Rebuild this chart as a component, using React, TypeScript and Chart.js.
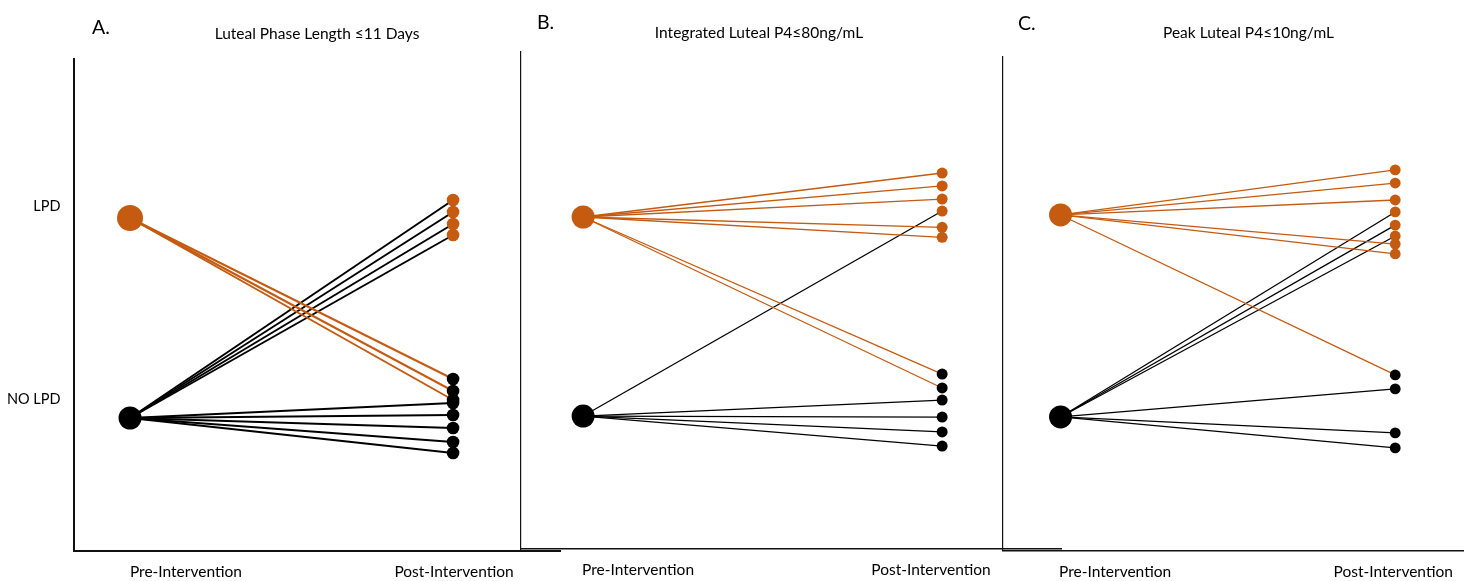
import { useEffect, useRef } from 'react';
import { Chart, registerables } from 'chart.js';

Chart.register(...registerables);

// Category names on the vertical axis (0 = NO LPD, 1 = LPD)
const STATUS_LABELS = ['NO LPD', 'LPD'];
const TIME_LABELS = ['Pre-Intervention', 'Post-Intervention'];
const PANEL_LETTERS = ['A.', 'B.', 'C.'];
const PANEL_TITLES = [
  'Luteal Phase Length ≤11 Days',
  'Integrated Luteal P4≤80ng/mL',
  'Peak Luteal P4≤10ng/mL',
];

// Status before the intervention, one entry per participant (1 = LPD, 0 = NO LPD)
const preLength = [1, 1, 1, 0, 0, 0, 0, 0, 0, 0, 0, 0];
// Position after the intervention (around 1 = LPD, around 0 = NO LPD; offsets keep dots apart)
const postLength = [0.195, 0.135, 0.09, 1.09, 1.03, 0.97, 0.915, 0.075, 0.015, -0.05, -0.12, -0.175];

const preIntegrated = [1, 1, 1, 1, 1, 1, 1, 0, 0, 0, 0, 0];
const postIntegrated = [1.221, 1.156, 1.09, 0.948, 0.898, 0.211, 0.141, 1.03, 0.08, -0.005, -0.08, -0.151];

const prePeak = [1, 1, 1, 1, 1, 1, 0, 0, 0, 0, 0, 0];
const postPeak = [1.223, 1.158, 1.074, 0.856, 0.807, 0.208, 1.015, 0.95, 0.896, 0.139, -0.079, -0.153];

const PRE = [preLength, preIntegrated, prePeak];
const POST = [postLength, postIntegrated, postPeak];

const ORANGE = '#C55A11';
const BLACK = '#000000';
const AXIS_COLOR = '#111111';
const FONT = 'Lato, "Open Sans", sans-serif';
const LABEL_SIZE = 15.5;
const STATUS_SIZE = 14.5;
const TITLE_SIZE = 15.5;
const LETTER_SIZE = 19.5;

const CANVAS_W = 1475;
const CANVAS_H = 581;
const X_AXIS_HEIGHT = 28;

// Layout of each panel: plot frame, scale ranges, tick positions and mark styles
const FRAMES = [
  {
    area: { left: 73.5, top: 59, right: 560, bottom: 551 },
    x: [-0.175, 1.331],
    y: [-0.665, 1.795],
    timeTicks: [0.173, 1.003],
    statusTicks: [0.0925, 1.06],
    showStatus: true,
    yAxisWidth: 73.5,
    xBorder: 2,
    yBorder: 2,
    lineWidth: 2,
    preRadius: [11.5, 13],
    postRadius: 6.3,
    heading: { letterX: 92, letterY: 34.3, titleX: 317, titleY: 38.5 },
  },
  {
    area: { left: 521, top: 52, right: 1061, bottom: 549 },
    x: [-0.173, 1.331],
    y: [-0.668, 1.829],
    timeTicks: [0.153, 0.969],
    statusTicks: [0, 1],
    showStatus: false,
    yAxisWidth: 0,
    xBorder: 1.5,
    yBorder: 1.2,
    lineWidth: 1.3,
    preRadius: [11.5, 11.5],
    postRadius: 5.5,
    heading: { letterX: 537, letterY: 29.3, titleX: 759, titleY: 37.5 },
  },
  {
    area: { left: 1003, top: 57, right: 1475, bottom: 550.5 },
    x: [-0.172, 1.204],
    y: [-0.661, 1.782],
    timeTicks: [0.163, 0.994],
    statusTicks: [0, 1],
    showStatus: false,
    yAxisWidth: 0,
    xBorder: 1.5,
    yBorder: 1.2,
    lineWidth: 1.3,
    preRadius: [11.5, 11.5],
    postRadius: 5.4,
    heading: { letterX: 1018, letterY: 30, titleX: 1248.5, titleY: 37.5 },
  },
];

const statusColor = (v: number) => (v >= 0.5 ? ORANGE : BLACK);

// Panel letter and heading above the plot frame
const headingPlugin = {
  id: 'panelHeading',
  afterDraw(chart: any, _args: any, opts: any) {
    const { ctx } = chart;
    ctx.save();
    ctx.fillStyle = '#000';
    ctx.textBaseline = 'alphabetic';
    ctx.textAlign = 'left';
    ctx.font = `${LETTER_SIZE}px ${FONT}`;
    ctx.fillText(opts.letter, opts.letterX, opts.letterY);
    ctx.textAlign = 'center';
    ctx.font = `${TITLE_SIZE}px ${FONT}`;
    ctx.fillText(opts.title, opts.titleX, opts.titleY);
    ctx.restore();
  },
};

function buildConfig(i: number): any {
  const f = FRAMES[i];
  const pre = PRE[i];
  const post = POST[i];

  const lines = pre.map((p, k) => ({
    data: [
      { x: 0, y: p },
      { x: 1, y: post[k] },
    ],
    showLine: true,
    borderColor: statusColor(p),
    borderWidth: f.lineWidth,
    pointRadius: 0,
    pointHoverRadius: 0,
    order: 2,
  }));

  const preStates = Array.from(new Set(pre));
  const preDots = {
    data: preStates.map((s) => ({ x: 0, y: s })),
    showLine: false,
    pointRadius: preStates.map((s) => f.preRadius[s]),
    pointBackgroundColor: preStates.map(statusColor),
    pointBorderWidth: 0,
    order: 0,
  };

  const postDots = {
    data: post.map((v) => ({ x: 1, y: v })),
    showLine: false,
    pointRadius: f.postRadius,
    pointBackgroundColor: post.map(statusColor),
    pointBorderWidth: 0,
    order: 1,
  };

  return {
    type: 'scatter',
    data: { datasets: [...lines, postDots, preDots] },
    plugins: [headingPlugin],
    options: {
      animation: false,
      responsive: false,
      events: [],
      layout: {
        padding: {
          left: f.area.left - f.yAxisWidth,
          top: f.area.top,
          right: CANVAS_W - f.area.right,
          bottom: CANVAS_H - f.area.bottom - X_AXIS_HEIGHT,
        },
      },
      plugins: {
        legend: { display: false },
        tooltip: { enabled: false },
        panelHeading: {
          letter: PANEL_LETTERS[i],
          title: PANEL_TITLES[i],
          ...f.heading,
        },
      },
      scales: {
        x: {
          type: 'linear',
          min: f.x[0],
          max: f.x[1],
          grid: { display: false, drawTicks: false },
          border: { display: true, color: AXIS_COLOR, width: f.xBorder },
          afterBuildTicks: (s: any) => {
            s.ticks = f.timeTicks.map((v) => ({ value: v }));
          },
          afterFit: (s: any) => {
            s.height = X_AXIS_HEIGHT;
          },
          ticks: {
            callback: (_v: any, idx: number) => TIME_LABELS[idx],
            color: '#000',
            font: { family: FONT, size: LABEL_SIZE },
            padding: 12,
            maxRotation: 0,
            minRotation: 0,
            autoSkip: false,
          },
        },
        y: {
          type: 'linear',
          min: f.y[0],
          max: f.y[1],
          grid: { display: false, drawTicks: false },
          border: { display: true, color: AXIS_COLOR, width: f.yBorder },
          afterBuildTicks: (s: any) => {
            s.ticks = f.statusTicks.map((v) => ({ value: v }));
          },
          afterFit: (s: any) => {
            s.width = f.yAxisWidth;
          },
          ticks: {
            display: f.showStatus,
            callback: (_v: any, idx: number) => STATUS_LABELS[idx],
            color: '#000',
            font: { family: FONT, size: STATUS_SIZE },
            padding: 13,
            autoSkip: false,
          },
        },
      },
    },
  };
}

function Panel({ index }: { index: number }) {
  const ref = useRef<HTMLCanvasElement>(null);
  useEffect(() => {
    if (!ref.current) return;
    const chart = new Chart(ref.current, buildConfig(index));
    return () => chart.destroy();
  }, [index]);
  return (
    <canvas
      ref={ref}
      width={CANVAS_W}
      height={CANVAS_H}
      style={{ position: 'absolute', left: 0, top: 0, width: CANVAS_W, height: CANVAS_H }}
    />
  );
}

export default function App() {
  return (
    <div
      style={{
        position: 'absolute',
        left: 0,
        top: 0,
        width: CANVAS_W,
        height: CANVAS_H,
        background: '#fff',
        overflow: 'hidden',
      }}
    >
      {FRAMES.map((_f, i) => (
        <Panel key={i} index={i} />
      ))}
    </div>
  );
}
